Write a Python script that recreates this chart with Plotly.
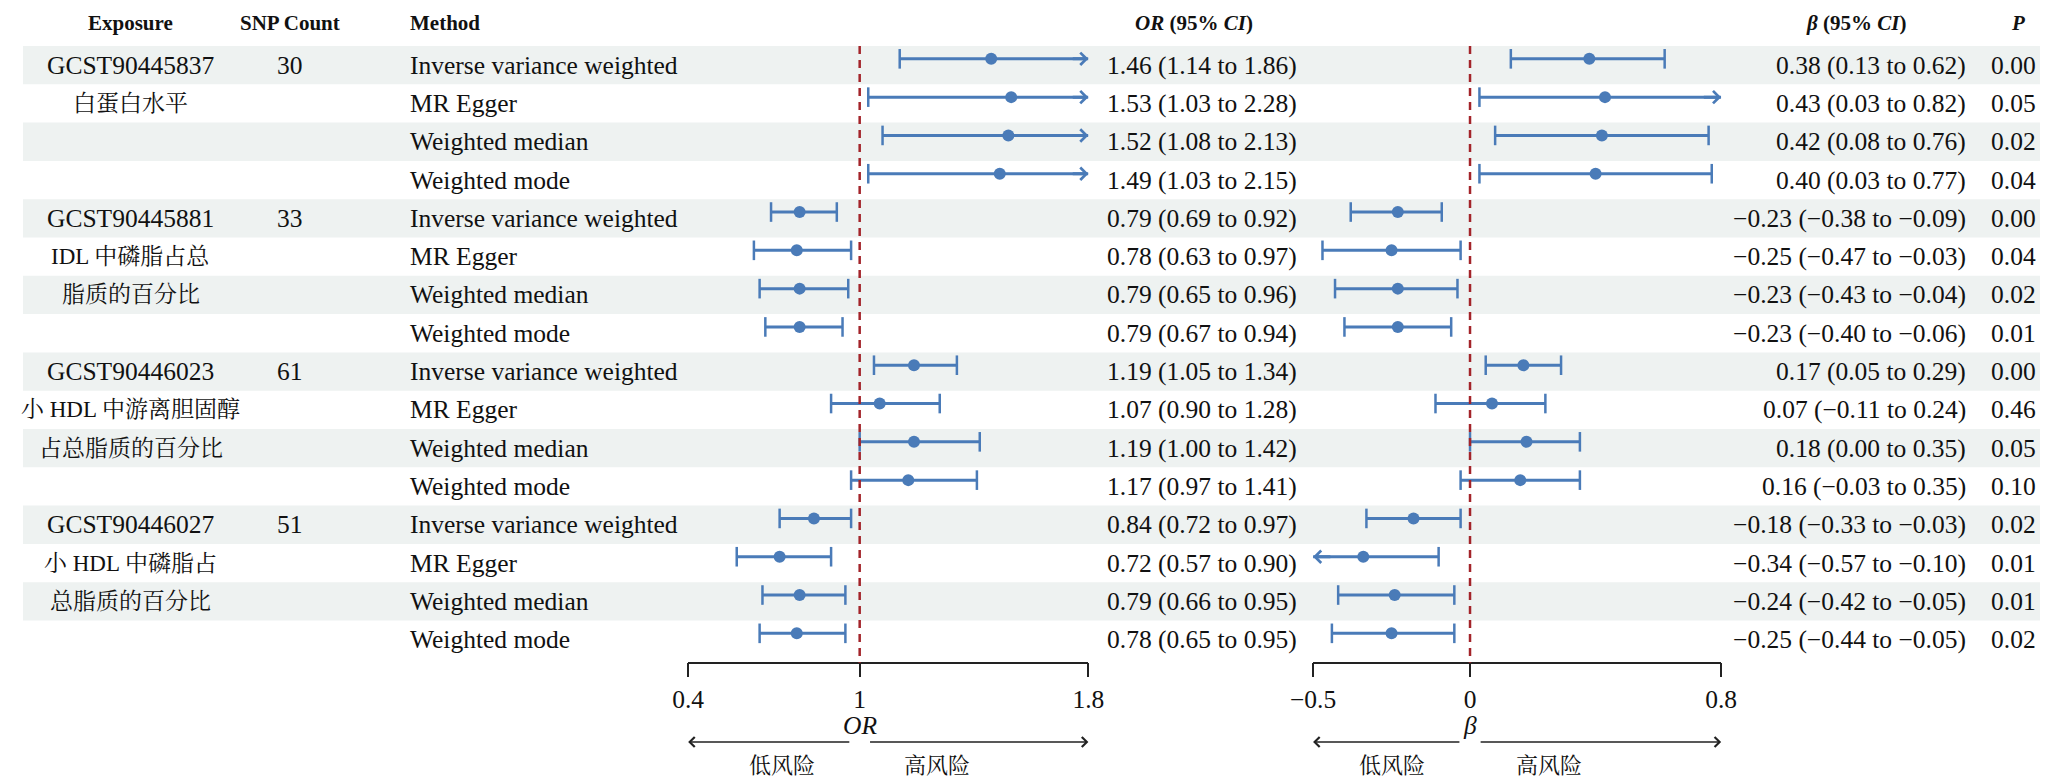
import plotly.graph_objects as go

# ---------------- data ----------------
exposure_ids = ["GCST90445837", "GCST90445881", "GCST90446023", "GCST90446027"]
exposure_desc = [
    ["白蛋白水平"],
    ["IDL 中磷脂占总", "脂质的百分比"],
    ["小 HDL 中游离胆固醇", "占总脂质的百分比"],
    ["小 HDL 中磷脂占", "总脂质的百分比"],
]
snp_counts = [30, 33, 61, 51]
methods = ["Inverse variance weighted", "MR Egger", "Weighted median", "Weighted mode"]

or_est = [1.46, 1.53, 1.52, 1.49, 0.79, 0.78, 0.79, 0.79, 1.19, 1.07, 1.19, 1.17, 0.84, 0.72, 0.79, 0.78]
or_lo = [1.14, 1.03, 1.08, 1.03, 0.69, 0.63, 0.65, 0.67, 1.05, 0.90, 1.00, 0.97, 0.72, 0.57, 0.66, 0.65]
or_hi = [1.86, 2.28, 2.13, 2.15, 0.92, 0.97, 0.96, 0.94, 1.34, 1.28, 1.42, 1.41, 0.97, 0.90, 0.95, 0.95]

beta_est = [0.38, 0.43, 0.42, 0.40, -0.23, -0.25, -0.23, -0.23, 0.17, 0.07, 0.18, 0.16, -0.18, -0.34, -0.24, -0.25]
beta_lo = [0.13, 0.03, 0.08, 0.03, -0.38, -0.47, -0.43, -0.40, 0.05, -0.11, 0.00, -0.03, -0.33, -0.57, -0.42, -0.44]
beta_hi = [0.62, 0.82, 0.76, 0.77, -0.09, -0.03, -0.04, -0.06, 0.29, 0.24, 0.35, 0.35, -0.03, -0.10, -0.05, -0.05]

p_values = [0.00, 0.05, 0.02, 0.04, 0.00, 0.04, 0.02, 0.01, 0.00, 0.46, 0.05, 0.10, 0.02, 0.01, 0.01, 0.02]

or_range = [0.4, 1.8]
or_ticks = [0.4, 1, 1.8]
or_ticktext = ["0.4", "1", "1.8"]
beta_range = [-0.5, 0.8]
beta_ticks = [-0.5, 0, 0.8]
beta_ticktext = ["−0.5", "0", "0.8"]

# ---------------- layout constants ----------------
W, H = 2056, 780
ROW0, ROWH = 65.15, 38.3          # pixel centre of first row, row pitch
def k_of(py):
    return (py - ROW0) / ROWH

def paper_y(k):
    return 1 - (ROW0 + ROWH * k) / H

FONT = "Liberation Serif, Noto Serif CJK SC, Noto Sans CJK SC, serif"
BLUE = "#4a7bb8"
RED = "#a3242a"
BAND = "#eef2f1"
TXT = "#111111"
FS = 25.5
HFS = 21
MOFF = 0.165    # markers sit slightly above the row centre

# column positions (px)
X_EXPO = 110
X_SNP = 272
X_METHOD = 392
X_ORTXT = 1103
X_ORHEAD = 1194
X_BTXT = 1983
X_BHEAD = 1868
X_P = 2054
X_PHEAD = 2034
OR_DOM = [678, 1086]
BETA_DOM = [1315, 1731]

n = len(or_est)
rows = list(range(n))
meth_col = [methods[i % 4] for i in rows]


def fmt(v):
    return f"{v:.2f}".replace("-", "−")


fig = go.Figure()


def add_panel(xa, est, lo, hi, rng, ref):
    xmin, xmax = rng
    lx, ly = [], []
    cx, cy = [], []
    for i in rows:
        y = i - MOFF
        a = max(lo[i], xmin)
        b = min(hi[i], xmax)
        lx += [a, b, None]
        ly += [y, y, None]
        if lo[i] >= xmin:
            cx.append(lo[i]); cy.append(y)
        else:
            fig.add_annotation(x=xmin, y=y, ax=xmin + 0.06, ay=y, xref=xa, yref="y",
                               axref=xa, ayref="y", text="", showarrow=True,
                               arrowhead=4, arrowsize=0.8, arrowwidth=3, arrowcolor=BLUE,
                               standoff=0)
        if hi[i] <= xmax:
            cx.append(hi[i]); cy.append(y)
        else:
            fig.add_annotation(x=xmax, y=y, ax=xmax - 0.06, ay=y, xref=xa, yref="y",
                               axref=xa, ayref="y", text="", showarrow=True,
                               arrowhead=4, arrowsize=0.8, arrowwidth=3, arrowcolor=BLUE,
                               standoff=0)
    fig.add_trace(go.Scatter(x=lx, y=ly, mode="lines", xaxis=xa, yaxis="y",
                             line=dict(color=BLUE, width=3), hoverinfo="skip"))
    fig.add_trace(go.Scatter(x=cx, y=cy, mode="markers", xaxis=xa, yaxis="y",
                             marker=dict(symbol="line-ns-open", size=14, color=BLUE,
                                         line=dict(color=BLUE, width=2.5)),
                             hoverinfo="skip", cliponaxis=False))
    fig.add_trace(go.Scatter(x=est, y=[i - MOFF for i in rows], mode="markers",
                             xaxis=xa, yaxis="y",
                             marker=dict(symbol="circle", size=12, color=BLUE),
                             hoverinfo="skip", cliponaxis=False))
    # reference line
    fig.add_shape(type="line", xref=xa, yref="y", x0=ref, x1=ref, y0=-0.5,
                  y1=k_of(662.7), line=dict(color=RED, width=2.5, dash="8px,6px"))


add_panel("x", or_est, or_lo, or_hi, or_range, 1)
add_panel("x2", beta_est, beta_lo, beta_hi, beta_range, 0)

# background bands (full width, paper-referenced)
for i in rows:
    if i % 2 == 0:
        fig.add_shape(type="rect", xref="paper", yref="paper", x0=0, x1=1,
                      y0=paper_y(i + 0.5), y1=paper_y(i - 0.5), fillcolor=BAND,
                      line_width=0, layer="below")

# ---------------- text columns ----------------
def txt(x, y, s, anchor="left", size=FS, xref="paper", color=TXT):
    fig.add_annotation(x=x, y=y, xref=xref, yref="y", text=s, showarrow=False,
                       xanchor=anchor, yanchor="middle",
                       font=dict(family=FONT, size=size, color=color))

hy = k_of(22.7)
txt(X_EXPO / W, hy, "<b>Exposure</b>", "center", HFS)
txt(X_SNP / W, hy, "<b>SNP Count</b>", "center", HFS)
txt(X_METHOD / W, hy, "<b>Method</b>", "left", HFS)
txt(X_ORHEAD / W, hy, "<b><i>OR</i> (95% <i>CI</i>)</b>", "center", HFS)
txt(X_BHEAD / W, hy, "<b><i>β</i> (95% <i>CI</i>)</b>", "center", HFS)
txt(X_PHEAD / W, hy, "<b><i>P</i></b>", "center", HFS)

for g, eid in enumerate(exposure_ids):
    base = g * 4
    txt(X_EXPO / W, base, eid, "center", 25.5)
    txt(X_SNP / W, base, str(snp_counts[g]), "center")
    for j, line in enumerate(exposure_desc[g]):
        txt(X_EXPO / W, base + 1 + j, line, "center", 23)

for i in rows:
    txt(X_METHOD / W, i, meth_col[i], "left")
    txt(X_ORTXT / W, i, f"{fmt(or_est[i])} ({fmt(or_lo[i])} to {fmt(or_hi[i])})", "left")
    txt(X_BTXT / W, i, f"{fmt(beta_est[i])} ({fmt(beta_lo[i])} to {fmt(beta_hi[i])})", "right")
    txt(X_P / W, i, fmt(p_values[i]), "right")

# axis titles, direction arrows, risk labels
for xa, ref, lab, rng, gap, off in [("x", 1, "<i>OR</i>", or_range, 0.031, 0.27),
                                    ("x2", 0, "<i>β</i>", beta_range, 0.029, 0.25)]:
    txt(ref, k_of(725), lab, "center", FS, xref=xa)
    ay = k_of(742)
    fig.add_annotation(x=rng[0], y=ay, ax=ref - gap, ay=ay, xref=xa, yref="y",
                       axref=xa, ayref="y", text="", showarrow=True, arrowhead=4,
                       arrowsize=1.3, arrowwidth=1.5, arrowcolor="#222222", standoff=0)
    fig.add_annotation(x=rng[1], y=ay, ax=ref + gap, ay=ay, xref=xa, yref="y",
                       axref=xa, ayref="y", text="", showarrow=True, arrowhead=4,
                       arrowsize=1.3, arrowwidth=1.5, arrowcolor="#222222", standoff=0)
    txt(ref - off, k_of(765), "低风险", "center", 22, xref=xa)
    txt(ref + off, k_of(765), "高风险", "center", 22, xref=xa)

axis_common = dict(anchor="free", position=1 - 662.7 / H, side="bottom",
                   showline=True, linecolor="#222222", linewidth=1.5,
                   ticks="outside", ticklen=14, tickwidth=1.5, tickcolor="#222222",
                   showgrid=False, zeroline=False, fixedrange=True,
                   tickfont=dict(family=FONT, size=FS, color=TXT))

fig.update_layout(
    width=W, height=H, autosize=False,
    margin=dict(l=0, r=0, t=0, b=0),
    paper_bgcolor="white", plot_bgcolor="rgba(0,0,0,0)",
    showlegend=False,
    xaxis=dict(domain=[OR_DOM[0] / W, OR_DOM[1] / W], range=or_range, tickvals=or_ticks,
               ticktext=or_ticktext, **axis_common),
    xaxis2=dict(domain=[BETA_DOM[0] / W, BETA_DOM[1] / W], range=beta_range,
                tickvals=beta_ticks, ticktext=beta_ticktext, **axis_common),
    yaxis=dict(domain=[0, 1], range=[k_of(H), k_of(0)], visible=False,
               fixedrange=True, anchor="x"),
)

fig.write_html(
    "out.html",
    config={"displayModeBar": False, "responsive": False},
    post_script=("document.body.style.margin='0';"
                 "document.documentElement.style.overflow='hidden';"),
)
